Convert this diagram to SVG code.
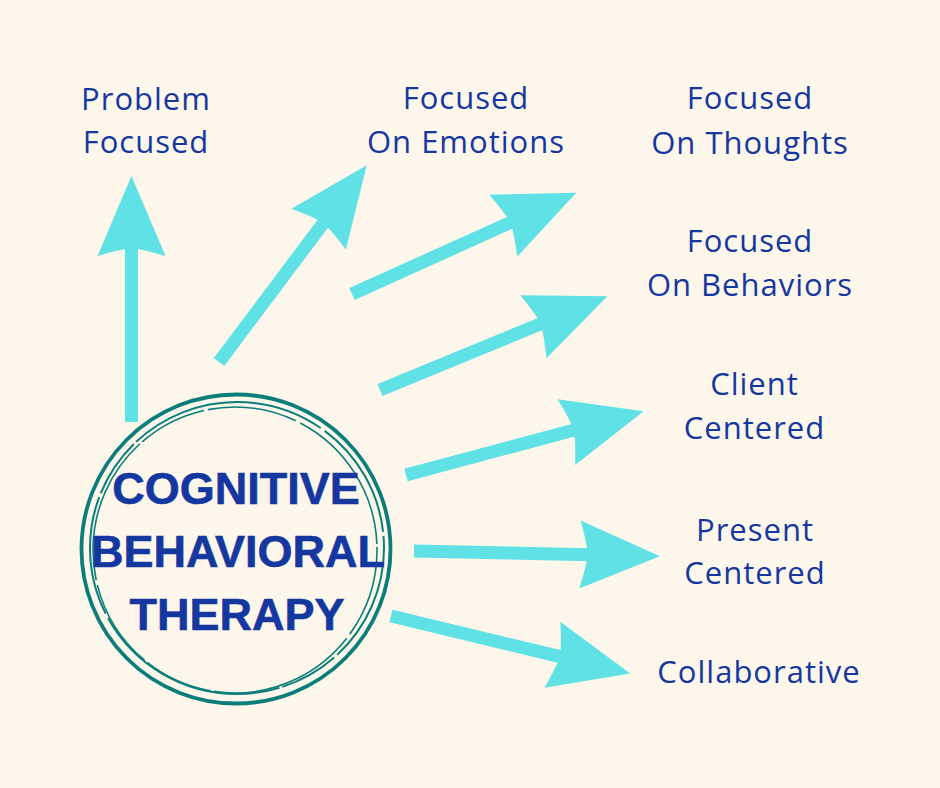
<svg xmlns="http://www.w3.org/2000/svg" xmlns:xlink="http://www.w3.org/1999/xlink" width="940" height="788" viewBox="0 0 940 788">
<style>
.lbl{font-family:"Open Sans","Noto Sans","Liberation Sans",sans-serif;font-size:31px;fill:#1537a0;text-anchor:middle;letter-spacing:1px}
.ttl{font-family:"Liberation Sans",Arial,sans-serif;font-weight:bold;font-size:45px;fill:#1537a0;stroke:#1537a0;stroke-width:0.6;text-anchor:middle}
.ring{fill:none;stroke:#0b7e7b}
.arr{fill:#5fe1e6}
</style>
<defs>
<g id="arrow">
<rect x="0" y="-6.5" width="176" height="13"/>
<path d="M246,0 L166,-34 Q172,-14 174,0 Q172,14 166,34 Z"/>
</g>
</defs>
<rect width="940" height="788" fill="#fdf6ea"/>
<g id="connectors" class="arr">
<use xlink:href="#arrow" transform="translate(131.5,422) rotate(-90)"/>
<use xlink:href="#arrow" transform="translate(219,362) rotate(-53.1)"/>
<use xlink:href="#arrow" transform="translate(352,294) rotate(-24.3)"/>
<use xlink:href="#arrow" transform="translate(380,390) rotate(-22.4)"/>
<use xlink:href="#arrow" transform="translate(406,475) rotate(-15)"/>
<use xlink:href="#arrow" transform="translate(414,551) rotate(1.2)"/>
<use xlink:href="#arrow" transform="translate(391,616) rotate(13.5)"/>
</g>
<g id="cbt">
<circle class="ring" cx="236" cy="549" r="154.5" stroke-width="3.8"/>
<ellipse class="ring" cx="237" cy="548" rx="147" ry="146" stroke-width="2" stroke-dasharray="120 4 60 3 200 5"/>
<ellipse class="ring" cx="235" cy="550" rx="142" ry="143" stroke-width="1.6" stroke-dasharray="90 5 150 3 70 4"/>
<text class="ttl" x="236" y="504">COGNITIVE</text>
<text class="ttl" x="238" y="567">BEHAVIORAL</text>
<text class="ttl" x="237" y="630">THERAPY</text>
</g>
<g id="problem-focused"><text class="lbl" x="146" y="110">Problem</text><text class="lbl" x="146" y="153">Focused</text></g>
<g id="focused-emotions"><text class="lbl" x="466" y="109">Focused</text><text class="lbl" x="466" y="153">On Emotions</text></g>
<g id="focused-thoughts"><text class="lbl" x="750" y="109">Focused</text><text class="lbl" x="750" y="154">On Thoughts</text></g>
<g id="focused-behaviors"><text class="lbl" x="750" y="252">Focused</text><text class="lbl" x="750" y="296">On Behaviors</text></g>
<g id="client-centered"><text class="lbl" x="754.5" y="395">Client</text><text class="lbl" x="754.5" y="439">Centered</text></g>
<g id="present-centered"><text class="lbl" x="755" y="541">Present</text><text class="lbl" x="755" y="584">Centered</text></g>
<g id="collaborative"><text class="lbl" x="759" y="683">Collaborative</text></g>
</svg>
